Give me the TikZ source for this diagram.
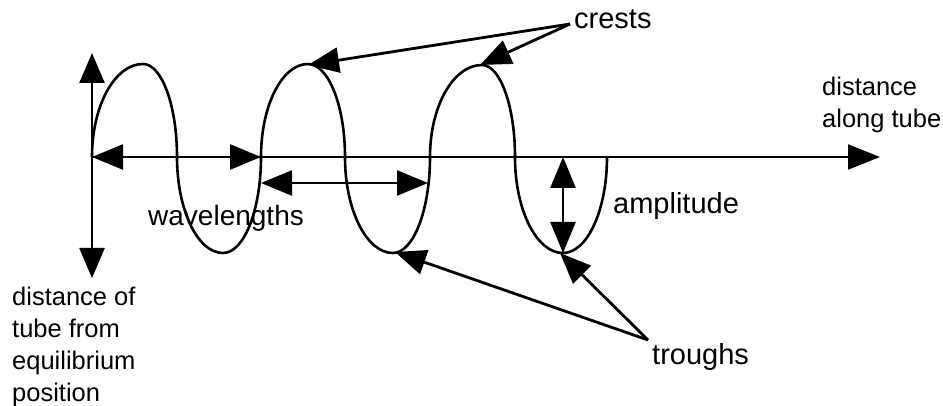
\documentclass[tikz,border=0pt]{standalone}
\usepackage{fontspec}
\setmainfont{Liberation Sans}
\usetikzlibrary{arrows.meta}
\begin{document}
\begin{tikzpicture}[x=1pt,y=-1pt,
  tri/.style={Triangle[length=31pt,width=25pt]},
  axisline/.style={line width=2pt},
  pointer/.style={line width=2.8pt,-{Triangle[length=31pt,width=25pt]}},
  twoway/.style={line width=2.6pt,{Triangle[length=31pt,width=25pt]}-{Triangle[length=31pt,width=25pt]}},
  wave/.style={line width=2.6pt},
  biglabel/.style={inner sep=0pt,font=\fontsize{29}{34}\selectfont,anchor=base west},
  axislabel/.style={inner sep=0pt,font=\fontsize{25.5}{32}\selectfont,align=left,anchor=north west}]
\useasboundingbox (0,0) rectangle (943,406);
% key points
\coordinate (O) at (92,157);
\coordinate (xend) at (880,157);
\coordinate (ytop) at (92,53);
\coordinate (ybot) at (92,278);
\coordinate (c1) at (261,157);
\coordinate (w2a) at (261,183);
\coordinate (w2b) at (428,183);
\coordinate (ampTop) at (563,157);
\coordinate (ampBot) at (563,253);
\coordinate (crestA) at (308,65);
\coordinate (crestB) at (480,65);
\coordinate (troughA) at (395,252);
\coordinate (troughB) at (560,253);
\coordinate (crestFoot) at (570,24);
\coordinate (troughFoot) at (648,340);
% axes
\draw[axisline,-{Triangle[length=32pt,width=25pt]}] (O) -- (xend);
\draw[line width=2.4pt,{Triangle[length=30pt,width=25pt]}-{Triangle[length=30pt,width=25pt]}] (ybot) -- (ytop);
% wave
\draw[wave] (92,157)
  .. controls (92,105.6) and (114.8,64) .. (143,64)
  .. controls (161.8,64) and (177,105.6) .. (177,157)
  .. controls (177,210) and (197.6,253) .. (223,253)
  .. controls (244,253) and (261,210) .. (261,157)
  .. controls (261,105.6) and (282,64) .. (308,64)
  .. controls (328.4,64) and (345,105.6) .. (345,157)
  .. controls (345,210) and (366.5,253) .. (393,253)
  .. controls (413.4,253) and (430,210) .. (430,157)
  .. controls (430,106.2) and (453.3,65) .. (482,65)
  .. controls (500.2,65) and (515,106.2) .. (515,157)
  .. controls (515,210) and (536.5,253) .. (563,253)
  .. controls (587.3,253) and (607,210) .. (607,157);
% wavelength arrows
\draw[twoway] (O) -- (c1);
\draw[twoway] (w2a) -- (w2b);
% amplitude
\draw[twoway] (ampTop) -- (ampBot);
% labels
\node[biglabel] (crests) at (574,29) {crests};
\node[biglabel] (troughs) at (652,364) {troughs};
\node[biglabel] (amp) at (613,214) {amplitude};
\node[biglabel,font=\fontsize{28}{34}\selectfont] (wl) at (148,226) {wavelengths};
\node[axislabel] (xlab) at (822,77) {distance\\along tube};
\node[axislabel] (ylab) at (12,287) {distance of\\tube from\\equilibrium\\position};
% pointers
\draw[pointer] (crestFoot) -- (crestA);
\draw[pointer] (crestFoot) -- (crestB);
\draw[pointer] (troughFoot) -- (troughA);
\draw[pointer] (troughFoot) -- (troughB);
\end{tikzpicture}
\end{document}
